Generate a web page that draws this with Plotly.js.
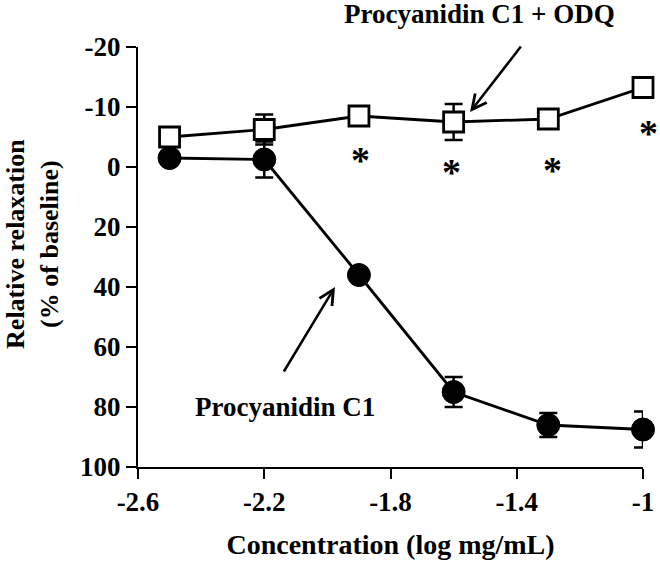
<!DOCTYPE html>
<html>
<head>
<meta charset="utf-8">
<script src="https://cdn.plot.ly/plotly-3.0.1.min.js"></script>
<style>html,body{margin:0;padding:0;background:#fff;}#chart{width:660px;height:562px;}</style>
</head>
<body>
<div id="chart"></div>
<script>
// Concentration (log mg/mL)
var conc = [-2.5, -2.2, -1.9, -1.6, -1.3, -1.0];
// Values are in axis units of the drawn scale (tick "-10" sits at -20, tick "-20" at -40)
var c1 = [-3, -2.5, 36, 75, 86, 87.5];
var c1Err = [0, 6, 0, 5, 4, 6];
var c1odq = [-10, -12.5, -17, -15, -16, -26.5];
var c1odqErr = [0, 5, 0, 6, 3, 0];
// Significance markers
var starX = [-1.9, -1.6, -1.3, -1.0];
var starY = [-4, 0, -0.7, -13];
// Tick labels
var xTickVals = [-2.6, -2.2, -1.8, -1.4, -1];
var xTickText = ['-2.6', '-2.2', '-1.8', '-1.4', '-1'];
var yTickVals = [-40, -20, 0, 20, 40, 60, 80, 100];
var yTickText = ['-20', '-10', '0', '20', '40', '60', '80', '100'];

var fontFam = '"Liberation Serif", "Times New Roman", serif';
function f(sz) { return {family: fontFam, size: sz, color: '#000', weight: 'bold'}; }

var traces = [
  {
    x: conc, y: c1, type: 'scatter', mode: 'lines+markers', name: 'Procyanidin C1',
    line: {color: '#000', width: 2.8},
    marker: {symbol: 'circle', size: 23, color: '#000', line: {color: '#000', width: 1}},
    error_y: {type: 'data', array: c1Err, visible: true, color: '#000', thickness: 2.5, width: 9},
    cliponaxis: false
  },
  {
    x: conc, y: c1odq, type: 'scatter', mode: 'lines+markers', name: 'Procyanidin C1 + ODQ',
    line: {color: '#000', width: 2.8},
    marker: {symbol: 'square', size: 20, color: '#fff', line: {color: '#000', width: 2.8}},
    error_y: {type: 'data', array: c1odqErr, visible: true, color: '#000', thickness: 2.5, width: 9},
    cliponaxis: false
  }
];

var starShift = [2, -2, 4, 5];
var annotations = [];
for (var i = 0; i < starX.length; i++) {
  annotations.push({x: starX[i], y: starY[i], xref: 'x', yref: 'y', text: '*', showarrow: false,
    xanchor: 'center', yanchor: 'middle', xshift: starShift[i], yshift: -5, font: f(38)});
}
annotations.push({x: 0.677, y: 1.079, xref: 'paper', yref: 'paper', xanchor: 'center', yanchor: 'middle',
  text: 'Procyanidin C1 + ODQ', showarrow: false, font: f(27)});
annotations.push({x: -2.134, y: 80, xref: 'x', yref: 'y', xanchor: 'center', yanchor: 'middle',
  text: 'Procyanidin C1', showarrow: false, font: f(27)});
annotations.push({x: -0.208, y: 0.531, xref: 'paper', yref: 'paper', xanchor: 'center', yanchor: 'middle',
  text: 'Relative relaxation<br>(% of baseline)', textangle: -90, showarrow: false, font: f(26)});
annotations.push({x: -1.548, y: -18.3, xref: 'x', yref: 'y', text: '', showarrow: true,
  ax: 52, ay: -67, arrowhead: 5, arrowsize: 1.15, arrowwidth: 2.5, arrowcolor: '#000', standoff: 0, startstandoff: 0});
annotations.push({x: -1.976, y: 40, xref: 'x', yref: 'y', text: '', showarrow: true,
  ax: -52, ay: 86, arrowhead: 5, arrowsize: 1.15, arrowwidth: 2.5, arrowcolor: '#000', standoff: 0, startstandoff: 0});

var layout = {
  width: 660, height: 562,
  margin: {l: 138, r: 17, t: 47, b: 95, pad: 0},
  paper_bgcolor: '#fff', plot_bgcolor: '#fff',
  showlegend: false,
  font: f(27),
  xaxis: {
    range: [-2.6, -1], tickvals: xTickVals, ticktext: xTickText,
    showgrid: false, zeroline: false, showline: true, linecolor: '#000', linewidth: 2,
    ticks: 'outside', ticklen: 10, tickwidth: 2, tickcolor: '#000',
    ticklabelstandoff: 0,
    tickfont: f(27),
    title: {text: 'Concentration (log mg/mL)', standoff: 18, font: f(28)}
  },
  yaxis: {
    range: [100, -40], tickvals: yTickVals, ticktext: yTickText,
    showgrid: false, zeroline: false, showline: true, linecolor: '#000', linewidth: 2,
    ticks: 'outside', ticklen: 10, tickwidth: 2, tickcolor: '#000',
    tickfont: f(27)
  },
  annotations: annotations
};

Plotly.newPlot('chart', traces, layout, {staticPlot: true, displayModeBar: false});
</script>
</body>
</html>
